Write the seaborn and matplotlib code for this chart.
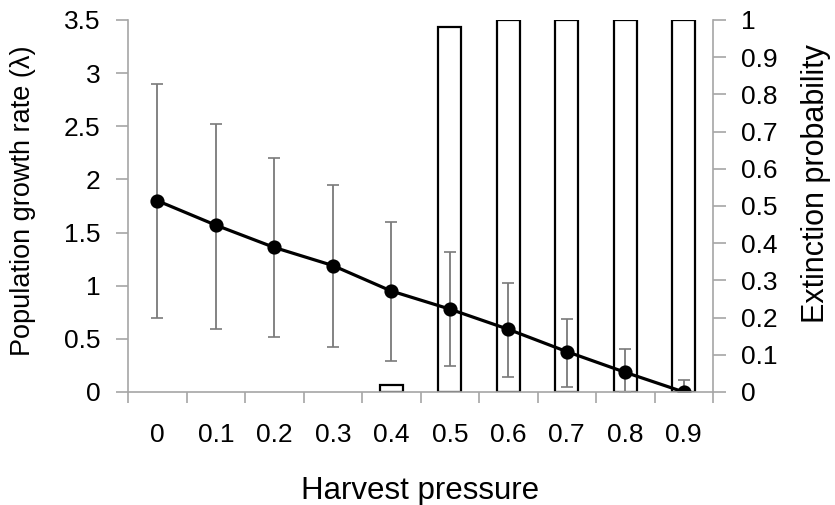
import numpy as np
import pandas as pd
import matplotlib
matplotlib.use("Agg")
import matplotlib.pyplot as plt
import seaborn as sns

harvest = ["0", "0.1", "0.2", "0.3", "0.4", "0.5", "0.6", "0.7", "0.8", "0.9"]
growth_mean = [1.80, 1.57, 1.36, 1.19, 0.95, 0.78, 0.59, 0.38, 0.185, 0.0]
growth_upper = [2.90, 2.52, 2.20, 1.95, 1.60, 1.32, 1.03, 0.69, 0.40, 0.11]
growth_lower = [0.70, 0.59, 0.52, 0.42, 0.29, 0.24, 0.14, 0.05, 0.0, 0.0]
extinction = [0.0, 0.0, 0.0, 0.0, 0.02, 0.98, 1.0, 1.0, 1.0, 1.0]
left_ticks = [0, 0.5, 1, 1.5, 2, 2.5, 3, 3.5]
right_ticks = [0, 0.1, 0.2, 0.3, 0.4, 0.5, 0.6, 0.7, 0.8, 0.9, 1]

df = pd.DataFrame({"harvest": harvest, "growth": growth_mean,
                   "upper": growth_upper, "lower": growth_lower,
                   "extinction": extinction})

sns.set_theme(style="white")
plt.rcParams["font.family"] = ["Liberation Sans", "DejaVu Sans"]
plt.rcParams["text.color"] = "black"
FS = 19
spine_c = "#a6a6a6"

fig = plt.figure(figsize=(8.35, 5.05), dpi=100)
ax = fig.add_axes([0.1533, 0.2238, 0.8539 - 0.1533, 0.9604 - 0.2238])
ax2 = ax.twinx()

# bars (extinction probability) on right axis
sns.barplot(data=df, x="harvest", y="extinction", ax=ax2, width=0.4,
            color="white", edgecolor="black", linewidth=1.6, errorbar=None)
for p in ax2.patches:
    if p.get_height() == 0:
        p.set_visible(False)
ax2.set_ylim(0, 1)

# growth rate line with asymmetric error bars on left axis
pos = np.arange(len(harvest))
yerr = np.array([df["growth"] - df["lower"], df["upper"] - df["growth"]])
eb = ax.errorbar(pos, df["growth"], yerr=yerr, fmt="none", ecolor="#7a7a7a",
                 elinewidth=1.3, capsize=4.5, capthick=1.2, zorder=2)
for cl in eb[1]:
    cl.set_color("#222222")
sns.pointplot(data=df, x="harvest", y="growth", ax=ax, color="black",
              markers="o", linestyles="-", errorbar=None,
              markersize=8.5, linewidth=2.3)
ax.set_ylim(0, 3.5)
ax.set_xlim(-0.5, len(harvest) - 0.5)

ax.set_zorder(ax2.get_zorder() + 1)
ax.patch.set_visible(False)

# spines
for a in (ax, ax2):
    for s in a.spines.values():
        s.set_color(spine_c)
        s.set_linewidth(1.2)
    a.spines["top"].set_visible(False)
ax.spines["right"].set_visible(False)
ax2.spines["left"].set_visible(False)
ax2.spines["bottom"].set_visible(False)
ax2.set_xlabel("")

# ticks
ax.set_yticks(left_ticks)
ax.set_yticklabels([f"{t:g}" for t in left_ticks], fontsize=FS)
ax2.set_yticks(right_ticks)
ax2.set_yticklabels([f"{t:g}" for t in right_ticks], fontsize=FS)
ax.set_xticks(pos)
ax.set_xticklabels(harvest, fontsize=FS)
ax.set_xticks(np.arange(-0.5, len(harvest)), minor=True)
ax.tick_params(axis="x", which="major", bottom=True, length=0, pad=22, labelcolor="black")
ax.tick_params(axis="x", which="minor", bottom=True, length=8, width=1.2, color=spine_c, direction="out")
ax.tick_params(axis="y", left=True, length=9, width=1.2, color=spine_c, pad=11, labelcolor="black")
ax2.tick_params(axis="y", right=True, length=9, width=1.2, color=spine_c, pad=11, labelcolor="black")

ax.set_xlabel("Harvest pressure", fontsize=22.5, labelpad=21, color="black")
ax.set_ylabel("Population growth rate (λ)", fontsize=19.5, labelpad=20, color="black")
ax2.set_ylabel("Extinction probability", fontsize=22, labelpad=17, color="black")
ax.yaxis.label.set_y(0.513)
ax2.yaxis.label.set_y(0.559)

fig.savefig("out.png", dpi=100)
